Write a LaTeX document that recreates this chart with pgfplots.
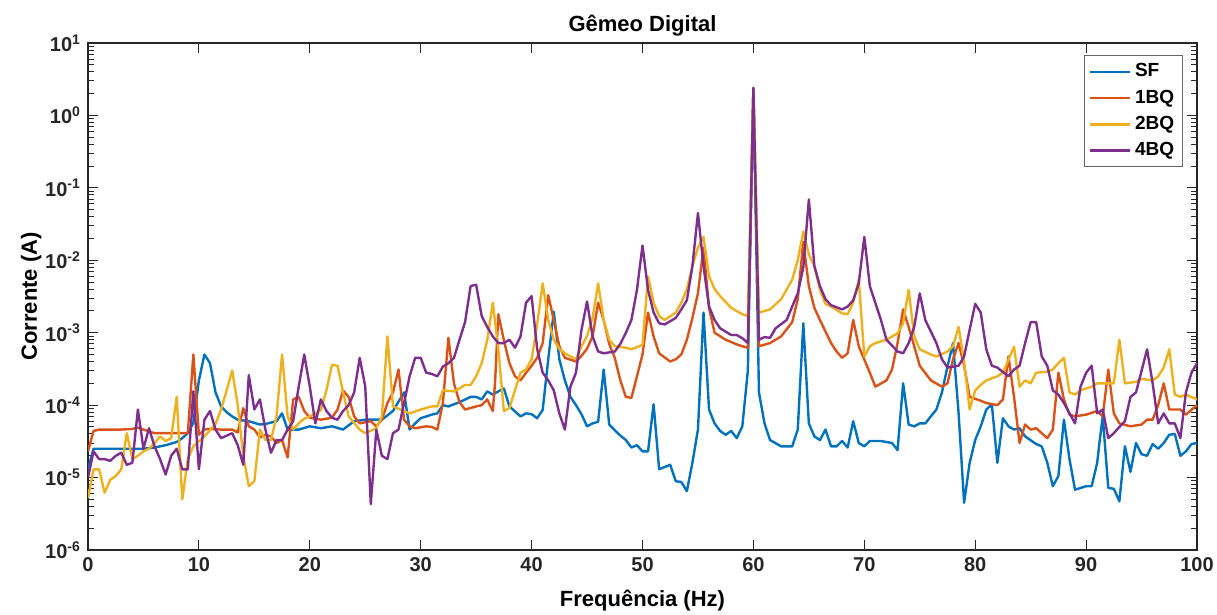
\documentclass[border=0pt]{standalone}
\usepackage{fontspec}
\setmainfont{Liberation Sans}
\usepackage{pgfplots}
\pgfplotsset{compat=1.18}
\definecolor{sfblue}{rgb}{0,0.447,0.741}
\definecolor{bqred}{rgb}{0.85,0.325,0.098}
\definecolor{bqyellow}{rgb}{0.929,0.694,0.125}
\definecolor{bqpurple}{rgb}{0.494,0.184,0.556}
\definecolor{axgray}{rgb}{0.15,0.15,0.15}
\begin{document}
\begin{tikzpicture}
\useasboundingbox (0,0) rectangle (608.5pt,307.5pt);
\begin{axis}[
  at={(44pt,32.5pt)}, anchor=south west,
  scale only axis, width=554.5pt, height=253.5pt,
  xmin=0, xmax=100, ymin=1e-6, ymax=10, ymode=log,
  xtick={0,10,...,100},
  ytick={1e-6,1e-5,1e-4,1e-3,1e-2,1e-1,1,10},
  minor ytick={2e-6,3e-6,4e-6,5e-6,6e-6,7e-6,8e-6,9e-6,
    2e-5,3e-5,4e-5,5e-5,6e-5,7e-5,8e-5,9e-5,
    2e-4,3e-4,4e-4,5e-4,6e-4,7e-4,8e-4,9e-4,
    2e-3,3e-3,4e-3,5e-3,6e-3,7e-3,8e-3,9e-3,
    2e-2,3e-2,4e-2,5e-2,6e-2,7e-2,8e-2,9e-2,
    0.2,0.3,0.4,0.5,0.6,0.7,0.8,0.9,
    2,3,4,5,6,7,8,9},
  yticklabels={10\textsuperscript{-6},10\textsuperscript{-5},10\textsuperscript{-4},10\textsuperscript{-3},10\textsuperscript{-2},10\textsuperscript{-1},10\textsuperscript{0},10\textsuperscript{1}},
  /pgf/number format/assume math mode=true,
  tick label style={font=\bfseries\fontsize{10}{12}\selectfont, text=axgray},
  axis line style={axgray, line width=0.6pt},
  every tick/.style={axgray, line width=0.5pt},
  major tick length=5pt, minor tick length=3pt,
  tick align=inside,
  title={Gêmeo Digital},
  title style={font=\bfseries\fontsize{11}{13}\selectfont, yshift=-6pt},
  xlabel={Frequência (Hz)},
  ylabel={Corrente (A)},
  label style={font=\bfseries\fontsize{11}{13}\selectfont},
  xlabel style={yshift=-2.5pt},
  ylabel style={yshift=-5pt},
  legend style={at={(0.987,0.976)}, anchor=north east, draw=black!60, line width=0.5pt,
    font=\bfseries\fontsize{9.5}{11}\selectfont, row sep=1pt, inner sep=2pt},
  legend cell align=left,
  legend image code/.code={\draw[#1] (0pt,0pt) -- (20pt,0pt);},
  every axis plot/.append style={line width=1.2pt, line join=round},
]
\addplot[sfblue] coordinates {(0,1.3e-5)(0.5,2.5e-5)(1,2.5e-5)(2,2.5e-5)(3,2.5e-5)(4,2.5e-5)(5,2.5e-5)(6,2.6e-5)(7,2.8e-5)(8,3.1e-5)(8.5,3.5e-5)(9,4.1e-5)(9.5,5.7e-5)(10,2.2e-4)(10.5,5e-4)(11,3.8e-4)(11.5,1.5e-4)(12,9.6e-5)(12.5,8e-5)(13,7e-5)(13.5,6.3e-5)(14.5,6e-5)(15.5,5.4e-5)(16,5.5e-5)(17,6e-5)(17.5,7.7e-5)(18,4.6e-5)(19,4.6e-5)(20,5.1e-5)(21,4.8e-5)(22,5.1e-5)(23,4.6e-5)(24,6e-5)(25,6.3e-5)(26.5,6.3e-5)(27.5,8.3e-5)(28.5,1.5e-4)(29,4.6e-5)(29.5,5.6e-5)(30,6.6e-5)(31,7.4e-5)(31.5,7.7e-5)(32,1e-4)(32.5,9.6e-5)(33.5,1.1e-4)(34.5,1.3e-4)(35,1.3e-4)(35.5,1.2e-4)(36,1.55e-4)(36.5,1.4e-4)(37,1.55e-4)(37.5,1.7e-4)(38,9.6e-5)(39,7e-5)(39.5,7.7e-5)(40,7.5e-5)(40.5,6.6e-5)(41,8.6e-5)(41.5,4.3e-4)(42,1.95e-3)(42.5,4.3e-4)(43,2.2e-4)(43.5,1.3e-4)(44,1.0e-4)(44.5,7.5e-5)(45,5.1e-5)(45.5,5.6e-5)(46,5.9e-5)(46.5,3.1e-4)(47,5.4e-5)(47.5,4.5e-5)(48,3.8e-5)(48.5,3.3e-5)(49,2.6e-5)(49.5,2.8e-5)(50,2.3e-5)(50.5,2.3e-5)(51,1.03e-4)(51.5,1.3e-5)(52,1.4e-5)(52.5,1.5e-5)(53,8.9e-6)(53.5,8.7e-6)(54,6.5e-6)(54.5,1.6e-5)(55,4.6e-5)(55.5,1.9e-3)(56,8.7e-5)(56.5,5.6e-5)(57,4.4e-5)(57.5,3.9e-5)(58,4.4e-5)(58.5,3.5e-5)(59,5.1e-5)(59.5,3e-4)(60,2.4)(60.5,1.5e-4)(61,5.6e-5)(61.5,3.3e-5)(62.5,2.7e-5)(63.5,2.7e-5)(64,4.6e-5)(64.5,1.35e-3)(65,5.6e-5)(65.5,3.7e-5)(66,3.3e-5)(66.5,4.6e-5)(67,2.7e-5)(67.5,2.7e-5)(68,3.2e-5)(68.5,2.6e-5)(69,6e-5)(69.5,3e-5)(70,2.7e-5)(70.5,3.2e-5)(71.5,3.2e-5)(72.5,3e-5)(73,2.4e-5)(73.5,2e-4)(74,5.4e-5)(74.5,5.1e-5)(75,5.6e-5)(75.5,5.6e-5)(76,7e-5)(76.5,8.7e-5)(77,1.5e-4)(77.5,3.4e-4)(78,7.2e-4)(78.5,7.8e-5)(79,4.5e-6)(79.5,1.6e-5)(80,3.3e-5)(80.5,5.1e-5)(81,8.7e-5)(81.5,1.02e-4)(82,1.6e-5)(82.5,6.6e-5)(83,5.1e-5)(83.5,4.6e-5)(84,4.8e-5)(84.5,3.7e-5)(85.5,2.9e-5)(86,2.7e-5)(86.5,1.6e-5)(87,7.6e-6)(87.5,1.05e-5)(88,6.3e-5)(88.5,1.8e-5)(89,6.8e-6)(90,7.6e-6)(90.5,7.6e-6)(91,1.6e-5)(91.2,3e-5)(91.5,7e-5)(92,7.2e-6)(92.5,7e-6)(93,4.7e-6)(93.5,2.7e-5)(94,1.2e-5)(94.5,3e-5)(95,2.1e-5)(95.5,2e-5)(96,2.9e-5)(96.5,2.5e-5)(97,3e-5)(97.5,3.9e-5)(98,4e-5)(98.5,2e-5)(99,2.3e-5)(99.5,2.9e-5)(100,3e-5)};
\addlegendentry{SF}
\addplot[bqred] coordinates {(0,2.3e-5)(0.5,4.4e-5)(1,4.6e-5)(2,4.6e-5)(3,4.6e-5)(4,4.7e-5)(4.5,4.9e-5)(5,4.6e-5)(6,4.1e-5)(7,4.1e-5)(8,4.1e-5)(9,4.1e-5)(9.5,5e-4)(10,3.9e-5)(10.5,4.6e-5)(11,4.7e-5)(12,4.6e-5)(13,4.6e-5)(13.5,4.2e-5)(14,9.1e-5)(14.5,5.1e-5)(15,4.6e-5)(15.5,3.6e-5)(16,3.9e-5)(16.5,3.7e-5)(17,3e-5)(17.5,3.3e-5)(18,1.9e-5)(18.5,1.2e-4)(19,1.3e-4)(19.5,8.3e-5)(20,6.7e-5)(21,6.3e-5)(22,6.7e-5)(22.5,8.7e-5)(23,1.6e-4)(23.5,1.3e-4)(24,7e-5)(24.5,5.6e-5)(25.5,6e-5)(26,5.1e-5)(26.5,6.3e-5)(27,1.07e-4)(27.5,1.5e-4)(28,3.1e-4)(28.5,6.3e-5)(29,5.1e-5)(29.5,4.8e-5)(30.5,5.1e-5)(31,5e-5)(31.5,4.6e-5)(32,1.07e-4)(32.5,8.5e-4)(33,2e-4)(33.5,1.1e-4)(34,8.7e-5)(35,9.6e-5)(35.5,1e-4)(36,1.2e-4)(36.5,8.3e-5)(36.7,2e-4)(37,1.8e-3)(37.5,7.9e-4)(38,3.8e-4)(38.5,2.5e-4)(39,2.2e-4)(39.5,2.8e-4)(40,3.5e-4)(40.5,4.5e-4)(41,7.2e-4)(41.5,3.3e-3)(42,1.5e-3)(42.5,6.5e-4)(43,4.5e-4)(44,4e-4)(44.5,4.8e-4)(45,6e-4)(45.5,8.9e-4)(46,2.6e-3)(46.5,1.5e-3)(47,7e-4)(47.5,4.5e-4)(48,2.2e-4)(48.5,1.3e-4)(49,1.26e-4)(49.5,2.5e-4)(50,5e-4)(50.5,1.9e-3)(51,8.9e-4)(51.5,5.2e-4)(52.5,4e-4)(53,4.3e-4)(53.5,5e-4)(54,8e-4)(54.5,1.6e-3)(55,3.5e-3)(55.5,1.5e-2)(56,2.2e-3)(56.5,1e-3)(57.5,8e-4)(58.5,6.9e-4)(59,6.5e-4)(59.5,6.2e-4)(60,2.4)(60.5,6.5e-4)(61.5,7.2e-4)(62.5,8.9e-4)(63.5,1.4e-3)(64,2.9e-3)(64.5,1.8e-2)(65,4.4e-3)(65.5,2.2e-3)(66,1.5e-3)(67,7.2e-4)(67.5,5.5e-4)(68,4.5e-4)(68.5,5.2e-4)(69,1.5e-3)(69.5,6.5e-4)(70.5,2.8e-4)(71,1.8e-4)(72,2.2e-4)(72.5,3.1e-4)(73,7.2e-4)(73.5,2.1e-3)(74,1.2e-3)(74.5,6.5e-4)(75,3.5e-4)(76,2.2e-4)(77,1.8e-4)(77.5,2e-4)(78,4.3e-4)(78.5,7.2e-4)(79,3.5e-4)(79.5,1.3e-4)(80.5,1.15e-4)(81,1.07e-4)(82,1e-4)(82.5,1.2e-4)(83,4.7e-4)(83.5,1.3e-4)(84,3e-5)(84.5,5.4e-5)(85,4.6e-5)(85.5,4.8e-5)(86.5,3.5e-5)(87,4.6e-5)(87.5,2.8e-4)(88,1.2e-4)(88.5,7.4e-5)(89,7e-5)(90,7.4e-5)(91,8.3e-5)(91.5,7e-5)(92,3.1e-4)(92.5,7.7e-5)(93,5.6e-5)(94,5.1e-5)(95,5.4e-5)(95.5,6.3e-5)(96,6.3e-5)(96.5,1e-4)(97,2e-4)(97.5,8.7e-5)(98.5,8.7e-5)(99,7.4e-5)(100,1e-4)};
\addlegendentry{1BQ}
\addplot[bqyellow] coordinates {(0,5.2e-6)(0.5,1.3e-5)(1,1.3e-5)(1.5,6.2e-6)(2,9.3e-6)(2.5,1.05e-5)(3,1.3e-5)(3.5,4.1e-5)(4,1.8e-5)(4.5,2e-5)(5,2.3e-5)(5.5,2.5e-5)(6,3e-5)(6.5,3.7e-5)(7,3.2e-5)(7.5,3.5e-5)(8,1.3e-4)(8.5,5e-6)(9,1.8e-5)(9.5,2.7e-5)(10.5,3.7e-5)(11,4.5e-5)(11.5,5.5e-5)(12,8.7e-5)(12.5,1.6e-4)(13,3e-4)(13.5,1e-4)(14,2e-5)(14.5,7.6e-6)(15,8.9e-6)(15.5,4.6e-5)(16,3.3e-5)(16.5,3.3e-5)(17,7e-5)(17.5,5e-4)(18,7e-5)(18.5,4.6e-5)(19,5.6e-5)(19.5,6.5e-5)(20,7e-5)(20.5,7.7e-5)(21,8.5e-5)(21.5,1.6e-4)(22,3.6e-4)(22.5,3.5e-4)(23,1.5e-4)(23.5,7e-5)(24.5,4.6e-5)(25,4.1e-5)(26,4.8e-5)(26.5,7e-5)(27,8.9e-4)(27.5,9.6e-5)(28.5,8.3e-5)(29,7.7e-5)(30,8.7e-5)(31,9.6e-5)(31.5,9.6e-5)(32,1.6e-4)(33,1.55e-4)(33.5,1.7e-4)(34,1.9e-4)(34.5,1.9e-4)(35,2.5e-4)(35.5,3.8e-4)(36,7.9e-4)(36.5,2.6e-3)(37,5.9e-4)(37.5,8.3e-5)(38,9.1e-5)(38.5,1.6e-4)(39,2.8e-4)(39.5,3.1e-4)(40,4.3e-4)(40.5,1.3e-3)(41,4.8e-3)(41.5,1.5e-3)(42,8e-4)(42.5,6e-4)(43,5.2e-4)(43.5,4.7e-4)(44,4.3e-4)(44.5,6.5e-4)(45,9e-4)(45.5,1.6e-3)(46,4.8e-3)(46.5,1.5e-3)(47,8e-4)(47.5,6.5e-4)(48.5,6.2e-4)(49,5.9e-4)(50,6.8e-4)(50.5,6e-3)(51,2.6e-3)(51.5,1.7e-3)(52,1.5e-3)(53,1.9e-3)(53.5,2.6e-3)(54,4e-3)(54.5,8.3e-3)(55,1.5e-2)(55.5,2.1e-2)(56,6e-3)(56.5,4e-3)(57,3.2e-3)(58,2.2e-3)(59,1.8e-3)(59.5,1.7e-3)(60,2.4)(60.5,1.9e-3)(61.5,2.1e-3)(62.5,2.9e-3)(63.5,5.4e-3)(64,1e-2)(64.5,2.5e-2)(65,1.2e-2)(65.5,8.3e-3)(66,3.9e-3)(66.5,2.5e-3)(67,2.3e-3)(68,1.85e-3)(68.5,1.8e-3)(69,2.6e-3)(69.5,5.4e-3)(70,4.7e-4)(70.5,6.5e-4)(71,7.2e-4)(72,8e-4)(73,9.8e-4)(73.5,1.35e-3)(74,3.9e-3)(74.5,8.9e-4)(75,5.9e-4)(76,5e-4)(76.5,4.7e-4)(77.5,5.5e-4)(78,6.5e-4)(78.5,1.2e-3)(79,4e-4)(79.5,8.7e-5)(80,1.6e-4)(80.5,1.9e-4)(81,2.2e-4)(82,2.5e-4)(82.5,2.8e-4)(83.5,6.4e-4)(84,1.8e-4)(84.5,2.2e-4)(85,2e-4)(85.5,2.8e-4)(86.5,2.9e-4)(87,3.1e-4)(87.5,3.8e-4)(88,4.5e-4)(88.5,1.5e-4)(89,1.4e-4)(89.5,1.6e-4)(90.5,1.8e-4)(91,2e-4)(92.5,2e-4)(93,8e-4)(93.5,2e-4)(94.5,2.1e-4)(95,2.3e-4)(96,2.2e-4)(96.5,2.5e-4)(97,3.3e-4)(97.5,5.9e-4)(98,1.4e-4)(98.5,1.3e-4)(99,1.4e-4)(100,1.2e-4)};
\addlegendentry{2BQ}
\addplot[bqpurple] coordinates {(0,1e-5)(0.5,2.3e-5)(1,1.8e-5)(1.5,1.8e-5)(2,1.7e-5)(2.5,2e-5)(3,2.2e-5)(3.5,1.5e-5)(4,1.6e-5)(4.5,8.7e-5)(5,2.5e-5)(5.5,4.8e-5)(6,2.7e-5)(6.5,1.8e-5)(7,1.1e-5)(7.5,2e-5)(8,2.5e-5)(8.5,1.3e-5)(9,1.3e-5)(9.5,1.55e-4)(10,1.3e-5)(10.5,6.3e-5)(11,8.3e-5)(11.5,4.6e-5)(12,3.5e-5)(13,4.1e-5)(13.5,2.8e-5)(14,1.5e-5)(14.5,2.6e-4)(15,8.7e-5)(15.5,1.2e-4)(16,4.6e-5)(16.5,2.2e-5)(17,3.3e-5)(17.5,3.3e-5)(18,4.6e-5)(18.5,6e-5)(19,1.8e-4)(19.5,5e-4)(20,1.8e-4)(20.5,5.6e-5)(21,1.2e-4)(21.5,8.3e-5)(22,6.7e-5)(22.5,6.3e-5)(23,8.3e-5)(23.5,1e-4)(24,1.5e-4)(24.5,4.5e-4)(25,1.8e-4)(25.5,4.3e-6)(26,4.6e-5)(26.5,2e-5)(27,1.8e-5)(27.5,4.1e-5)(28,4.6e-5)(28.5,1.07e-4)(29,2.5e-4)(29.5,4.5e-4)(30,4.5e-4)(30.5,2.8e-4)(31,2.7e-4)(31.5,2.5e-4)(32,3.4e-4)(32.5,3.8e-4)(33,4.5e-4)(33.5,8e-4)(34,1.4e-3)(34.5,4.4e-3)(35,4.6e-3)(35.5,1.7e-3)(36,1.2e-3)(36.5,8.9e-4)(37,7.2e-4)(37.5,7.2e-4)(38,8e-4)(38.5,6.2e-4)(39,8.9e-4)(39.5,2.6e-3)(40,3.2e-3)(40.5,6e-4)(41,2.8e-4)(41.5,2.2e-4)(42,1.6e-4)(42.5,7.7e-5)(43,4.6e-5)(43.5,1.8e-4)(44,2.8e-4)(44.5,1.1e-3)(45,2.7e-3)(45.5,8.9e-4)(46,5.5e-4)(46.5,5.2e-4)(47.5,5.5e-4)(48,7e-4)(48.5,1e-3)(49,1.5e-3)(49.5,3.9e-3)(50,1.6e-2)(50.5,3.9e-3)(51,1.9e-3)(51.5,1.35e-3)(52,1.3e-3)(53,1.6e-3)(53.5,2.1e-3)(54,2.8e-3)(54.5,8.3e-3)(55,4.5e-2)(55.5,8.3e-3)(56,2.3e-3)(56.5,1.5e-3)(57,1.15e-3)(58,9.3e-4)(58.5,9.3e-4)(59,8.4e-4)(59.5,7.2e-4)(60,2.4)(60.5,8e-4)(61,8.7e-4)(61.5,8.5e-4)(62,1.15e-3)(63,1.5e-3)(63.5,2.3e-3)(64,3.5e-3)(64.5,8e-3)(65,6.9e-2)(65.5,8.3e-3)(66,4.4e-3)(66.5,2.9e-3)(67,2.4e-3)(68,2.1e-3)(68.5,2.3e-3)(69,2.8e-3)(69.5,4.8e-3)(70,2.1e-2)(70.5,4.4e-3)(71.5,1.5e-3)(72,8e-4)(73,5.5e-4)(73.5,5.2e-4)(74,7.2e-4)(74.5,1.2e-3)(75,3.5e-3)(75.5,1.5e-3)(76.5,7.2e-4)(77,4.3e-4)(77.5,3.3e-4)(78.5,3.5e-4)(79,4.7e-4)(79.5,1.1e-3)(80,2.5e-3)(80.5,1.9e-3)(81,5.9e-4)(81.5,3.5e-4)(82,3.3e-4)(83,2.5e-4)(83.5,3.1e-4)(84,3.5e-4)(84.5,7.2e-4)(85,1.4e-3)(85.5,1.4e-3)(86,4.7e-4)(86.5,3.5e-4)(87,1.6e-4)(87.5,1.4e-4)(88,1.07e-4)(89,5.6e-5)(89.5,1.8e-4)(90,2.8e-4)(90.5,3.5e-4)(91,7.7e-5)(91.5,8.7e-5)(92,3.5e-5)(92.5,4.1e-5)(93,5e-5)(93.5,6e-5)(94,1.3e-4)(94.5,1.5e-4)(95.5,5.9e-4)(96,2e-4)(96.5,5.6e-5)(97,7.7e-5)(97.5,5.6e-5)(98,5.6e-5)(98.5,3.5e-5)(99,1.5e-4)(99.5,2.8e-4)(100,3.8e-4)};
\addlegendentry{4BQ}
\end{axis}
\end{tikzpicture}
\end{document}
